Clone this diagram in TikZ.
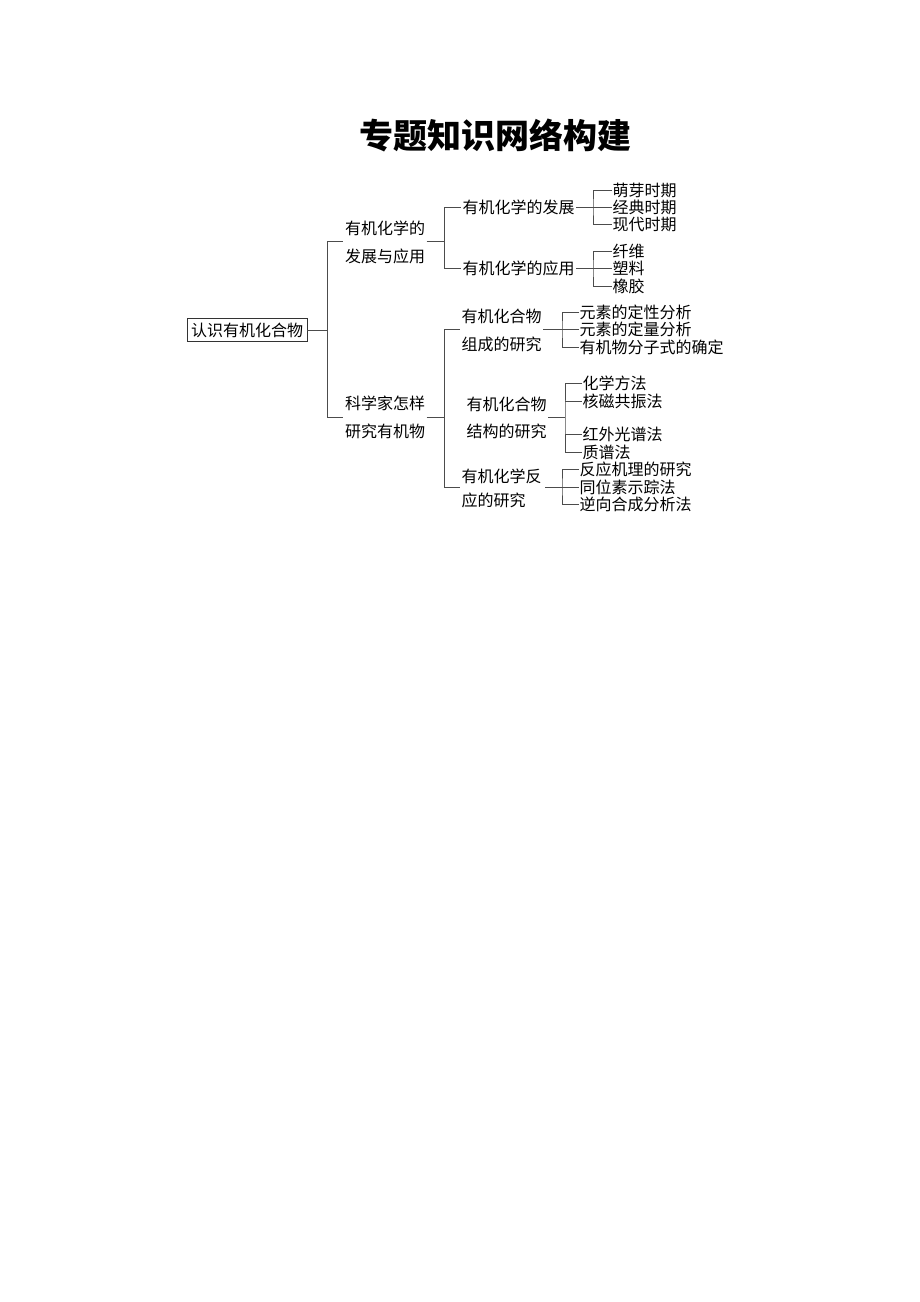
\documentclass[tikz,border=0pt]{standalone}
\usepackage{fontspec}
\setmainfont{Noto Sans CJK SC}
\begin{document}
\begin{tikzpicture}[x=1pt,y=-1pt,
  ln/.style={draw=black!70,line width=0.9pt},
  leaf/.style={anchor=west,inner xsep=0.5pt,inner ysep=0pt,font=\fontsize{16}{17}\selectfont},
  mid/.style={inner xsep=1.5pt,inner ysep=0pt,font=\fontsize{16}{17}\selectfont},
  two/.style={inner xsep=1.5pt,inner ysep=0pt,align=left,font=\fontsize{16}{#1}\selectfont}]
\useasboundingbox (0,0) rectangle (920,1302);
\fill[white] (0,0) rectangle (920,1302);
% title
\node[font=\fontsize{34}{36}\selectfont\bfseries] (title) at (495,135) {专题知识网络构建};
% root
\node[draw=black!80,line width=0.9pt,inner xsep=4pt,minimum height=23pt,font=\fontsize{16}{17}\selectfont] (root) at (247,330) {认识有机化合物};
\coordinate (j0t) at (327,241);
\coordinate (j0b) at (327,417);
\coordinate (j0m) at (327,330);
\draw[ln] (root.east) -- (j0m);
\draw[ln] (j0t) -- (j0b);
% level 1
\node[two=28] (A) at (385,242) {有机化学的\\发展与应用};
\node[two=28] (B) at (385,417) {科学家怎样\\研究有机物};
\draw[ln] (j0t) -- (A.west |- j0t);
\draw[ln] (j0b) -- (B.west |- j0b);
\coordinate (ja) at (444,241);
\coordinate (jat) at (444,207);
\coordinate (jab) at (444,268);
\draw[ln] (A.east |- ja) -- (ja);
\draw[ln] (jat) -- (jab);
\coordinate (jb) at (444,417);
\coordinate (jbt) at (444,329);
\coordinate (jbb) at (444,487);
\draw[ln] (B.east |- jb) -- (jb);
\draw[ln] (jbt) -- (jbb);
% level 2 (A)
\node[mid,anchor=west] (A1) at (461,207) {有机化学的发展};
\node[mid,anchor=west] (A2) at (461,268) {有机化学的应用};
\draw[ln] (jat) -- (A1.west);
\draw[ln] (jab) -- (A2.west);
\coordinate (ja1) at (593,207);
\coordinate (ja2) at (593,268);
\draw[ln] (A1.east) -- (ja1);
\draw[ln] (A2.east) -- (ja2);
\node[leaf] (a11) at (612,190) {萌芽时期};
\node[leaf] (a12) at (612,207) {经典时期};
\node[leaf] (a13) at (612,224) {现代时期};
\node[leaf] (a21) at (612,251) {纤维};
\node[leaf] (a22) at (612,268) {塑料};
\node[leaf] (a23) at (612,286) {橡胶};
\draw[ln] (a11.west) -| (ja1) |- (a13.west);
\draw[ln] (ja1) -- (a12.west);
\draw[ln] (a21.west) -| (ja2) |- (a23.west);
\draw[ln] (ja2) -- (a22.west);
% level 2 (B)
\node[two=28,anchor=west] (B1) at (460,330) {有机化合物\\组成的研究};
\node[two=27,anchor=west] (B2) at (465,418) {有机化合物\\结构的研究};
\node[two=24,anchor=west] (B3) at (460,488) {有机化学反\\应的研究};
\draw[ln] (jbt) -- (B1.west |- jbt);
\draw[ln] (jbb) -- (B3.west |- jbb);
\coordinate (jb1) at (562,329);
\coordinate (jb2) at (565,417);
\coordinate (jb3) at (562,487);
\draw[ln] (B1.east |- jb1) -- (jb1);
\draw[ln] (B2.east |- jb2) -- (jb2);
\draw[ln] (545,487) -- (jb3);
\node[leaf] (b11) at (579,312) {元素的定性分析};
\node[leaf] (b12) at (579,329) {元素的定量分析};
\node[leaf] (b13) at (579,347) {有机物分子式的确定};
\draw[ln] (b11.west) -| (jb1) |- (b13.west);
\draw[ln] (jb1) -- (b12.west);
\node[leaf] (b21) at (582,383) {化学方法};
\node[leaf] (b22) at (582,401) {核磁共振法};
\node[leaf] (b23) at (582,434) {红外光谱法};
\node[leaf] (b24) at (582,452) {质谱法};
\draw[ln] (b21.west) -| (jb2) |- (b24.west);
\draw[ln] (jb2 |- b22.west) -- (b22.west);
\draw[ln] (jb2 |- b23.west) -- (b23.west);
\node[leaf] (b31) at (579,469) {反应机理的研究};
\node[leaf] (b32) at (579,487) {同位素示踪法};
\node[leaf] (b33) at (579,504) {逆向合成分析法};
\draw[ln] (b31.west) -| (jb3) |- (b33.west);
\draw[ln] (jb3) -- (b32.west);
\end{tikzpicture}
\end{document}
